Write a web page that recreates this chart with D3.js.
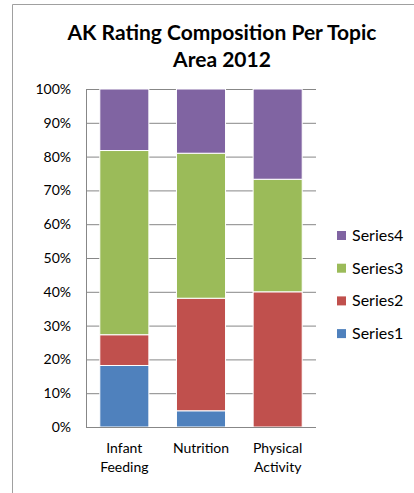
<!DOCTYPE html>
<html>
<head>
<meta charset="utf-8">
<script src="https://cdn.jsdelivr.net/npm/d3@7"></script>
<style>
  html, body { margin: 0; padding: 0; background: #fff; }
  svg { display: block; }
  text { font-family: Lato, "Open Sans", sans-serif; fill: #000; }
</style>
</head>
<body>
<svg id="chart" width="414" height="493"></svg>
<script>
// Topic areas along the x axis (two-line labels)
const categories = ["Infant Feeding", "Nutrition", "Physical Activity"];
const categoryLines = [["Infant", "Feeding"], ["Nutrition"], ["Physical", "Activity"]];

// Share of ratings per topic, in percent (each topic sums to 100)
const series1 = [18.2, 4.8, 0];
const series2 = [9.1, 33.3, 40.0];
const series3 = [54.5, 42.9, 33.3];
const series4 = [18.2, 19.0, 26.7];

const seriesNames = ["Series1", "Series2", "Series3", "Series4"];
const seriesColors = ["#4F81BD", "#C0504D", "#9BBB59", "#8064A2"];
const yTicks = [0, 10, 20, 30, 40, 50, 60, 70, 80, 90, 100];
const titleLines = ["AK Rating Composition Per Topic", "Area 2012"];

const rows = categories.map((c, i) => ({
  category: c,
  Series1: series1[i],
  Series2: series2[i],
  Series3: series3[i],
  Series4: series4[i]
}));

const svg = d3.select("#chart");
const margin = { left: 86, right: 316, top: 89, bottom: 427 };

const x = d3.scaleBand()
  .domain(categories)
  .range([margin.left, margin.right])
  .paddingInner(0.36)
  .paddingOuter(0.18);

const y = d3.scaleLinear().domain([0, 100]).range([margin.bottom, margin.top]);
const color = d3.scaleOrdinal().domain(seriesNames).range(seriesColors);

// Chart frame (left and top edges)
svg.append("line").attr("x1", 12.5).attr("x2", 12.5).attr("y1", 4.5).attr("y2", 493)
  .attr("stroke", "#a0a0a0").attr("stroke-width", 1);
svg.append("line").attr("x1", 12.5).attr("x2", 414).attr("y1", 4.5).attr("y2", 4.5)
  .attr("stroke", "#a0a0a0").attr("stroke-width", 1);

// Title
const title = svg.append("text")
  .attr("text-anchor", "middle")
  .attr("font-weight", "bold")
  .attr("font-size", 21);
titleLines.forEach((t, i) => {
  title.append("tspan").attr("x", 222).attr("y", 40 + i * 27).text(t);
});

// Gridlines
const yAxis = d3.axisLeft(y)
  .tickValues(yTicks)
  .tickSize(-(margin.right - margin.left))
  .tickPadding(15)
  .tickFormat(d => d + "%");

const gy = svg.append("g")
  .attr("transform", `translate(${margin.left},0)`)
  .call(yAxis);
gy.select(".domain").remove();
gy.selectAll(".tick line").attr("stroke", "#878787").attr("stroke-width", 1);
gy.selectAll(".tick text")
  .attr("font-size", 14)
  .attr("font-family", "Lato, sans-serif")
  .attr("fill", "#000");

// Stacked bars
const stack = d3.stack().keys(seriesNames);
const layers = stack(rows);

svg.append("g")
  .selectAll("g")
  .data(layers)
  .join("g")
  .attr("fill", d => color(d.key))
  .selectAll("rect")
  .data(d => d)
  .join("rect")
  .attr("x", d => x(d.data.category))
  .attr("width", x.bandwidth())
  .attr("y", d => y(d[1]))
  .attr("height", d => Math.max(0, y(d[0]) - y(d[1])))
  .attr("stroke", "#ffffff")
  .attr("stroke-width", 1);

// Axis lines
svg.append("line")
  .attr("x1", margin.left + 0.5).attr("x2", margin.left + 0.5)
  .attr("y1", margin.top).attr("y2", margin.bottom)
  .attr("stroke", "#878787");
svg.append("line")
  .attr("x1", margin.left).attr("x2", margin.right)
  .attr("y1", margin.bottom + 0.5).attr("y2", margin.bottom + 0.5)
  .attr("stroke", "#878787");

// Category labels
const xl = svg.append("g")
  .selectAll("text")
  .data(categories)
  .join("text")
  .attr("text-anchor", "middle")
  .attr("font-size", 14);
xl.each(function (d, i) {
  const cx = x(d) + x.bandwidth() / 2;
  categoryLines[i].forEach((line, j) => {
    d3.select(this).append("tspan")
      .attr("x", cx)
      .attr("y", 453 + j * 19)
      .text(line);
  });
});

// Legend (top entry is the last series)
const legend = svg.append("g")
  .selectAll("g")
  .data(seriesNames.slice().reverse())
  .join("g")
  .attr("transform", (d, i) => `translate(337,${231 + i * 32.7})`);
legend.append("rect")
  .attr("width", 9).attr("height", 9)
  .attr("fill", d => color(d));
legend.append("text")
  .attr("x", 15).attr("y", 10)
  .attr("font-size", 16)
  .text(d => d);
</script>
</body>
</html>
